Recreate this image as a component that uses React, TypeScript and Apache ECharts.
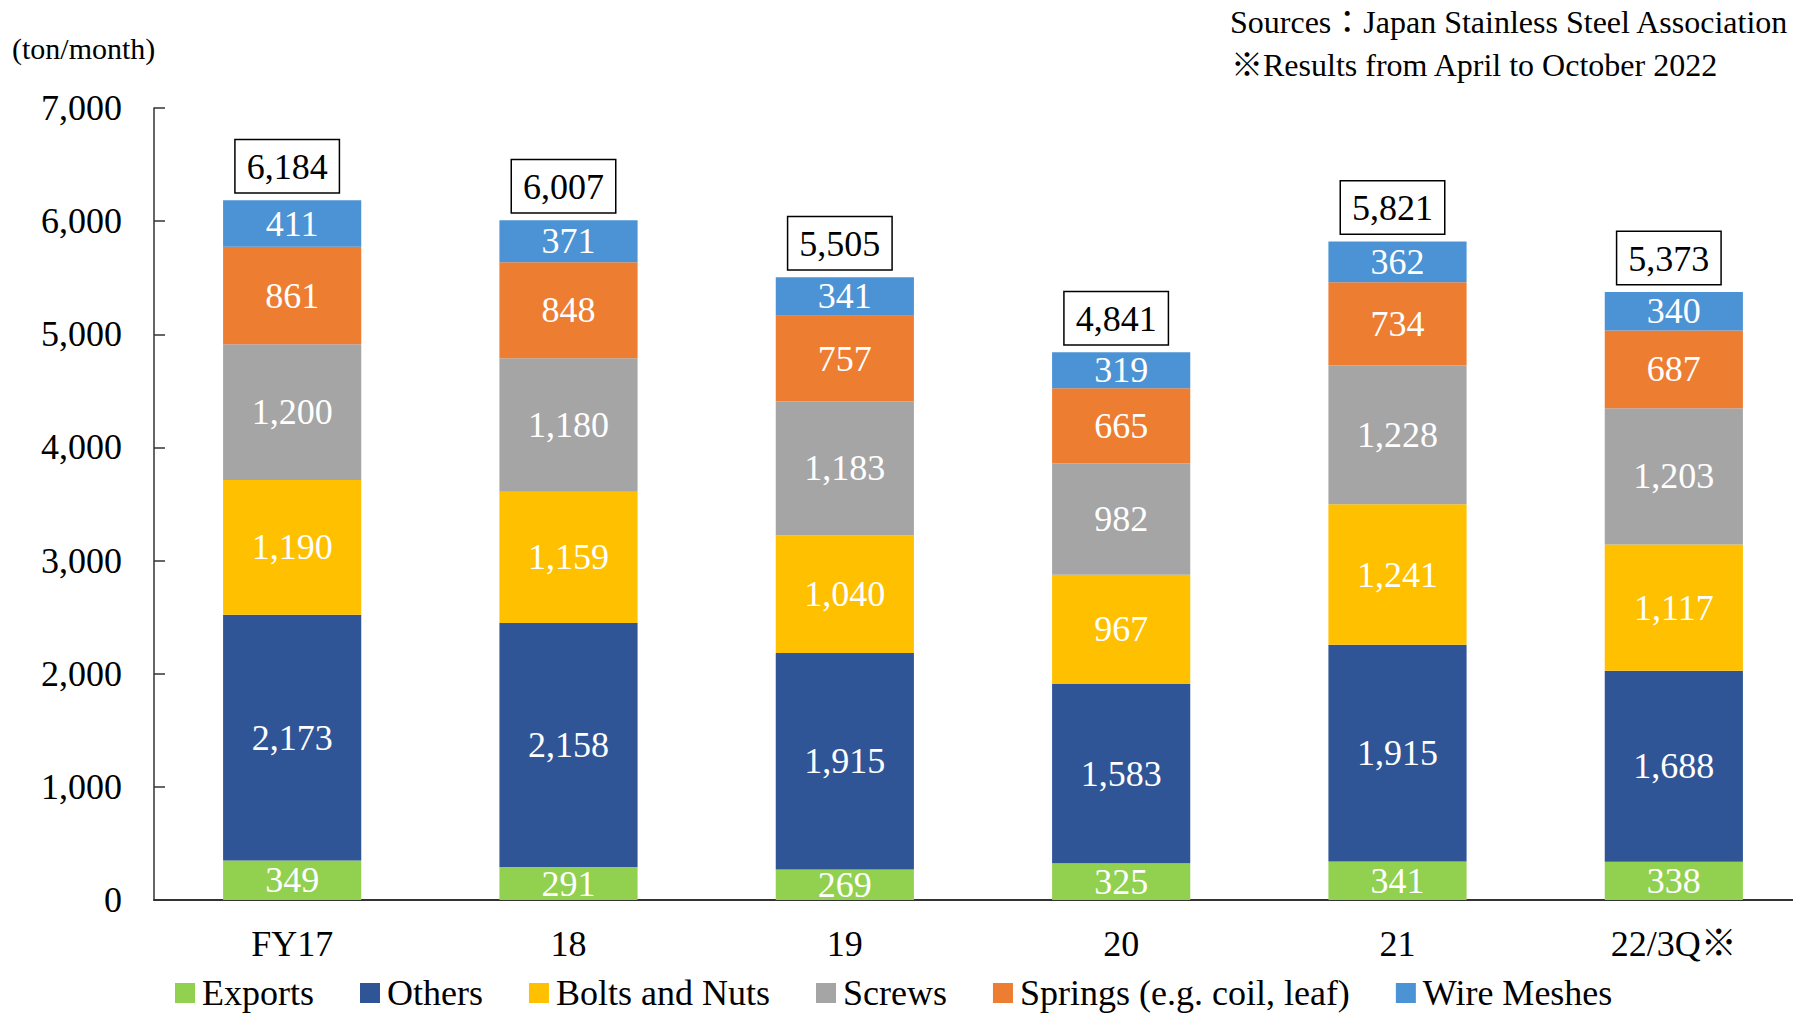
import React, { useEffect, useRef } from "react";
import * as echarts from "echarts";

const categories = ["FY17", "18", "19", "20", "21", "22/3Q※"];
const exportsVals = [349, 291, 269, 325, 341, 338];
const othersVals = [2173, 2158, 1915, 1583, 1915, 1688];
const boltsVals = [1190, 1159, 1040, 967, 1241, 1117];
const screwsVals = [1200, 1180, 1183, 982, 1228, 1203];
const springsVals = [861, 848, 757, 665, 734, 687];
const wireVals = [411, 371, 341, 319, 362, 340];
const totals = [6184, 6007, 5505, 4841, 5821, 5373];
const yTicks = [0, 1000, 2000, 3000, 4000, 5000, 6000, 7000];

const FONT = "'Liberation Serif', 'Times New Roman', 'Noto Sans CJK JP', serif";

const seriesDefs = [
  { name: "Exports", data: exportsVals, color: "#92D050" },
  { name: "Others", data: othersVals, color: "#2F5597" },
  { name: "Bolts and Nuts", data: boltsVals, color: "#FFC000" },
  { name: "Screws", data: screwsVals, color: "#A5A5A5" },
  { name: "Springs (e.g. coil, leaf)", data: springsVals, color: "#ED7D31" },
  { name: "Wire Meshes", data: wireVals, color: "#4B93D5" },
];

const fmt = (v: number) => v.toLocaleString("en-US");

export default function App() {
  const ref = useRef<HTMLDivElement>(null);
  useEffect(() => {
    document.body.style.margin = "0";
    const chart = echarts.init(ref.current!, null, { renderer: "svg" });
    const series: any[] = seriesDefs.map((s) => ({
      name: s.name,
      type: "bar",
      stack: "all",
      barWidth: "50%",
      data: s.data,
      itemStyle: { color: s.color },
      label: {
        show: true,
        position: "inside",
        color: "#fff",
        fontFamily: FONT,
        fontSize: 36,
        formatter: (p: any) => fmt(p.value),
      },
    }));
    series.push({
      name: "Total",
      type: "bar",
      barWidth: "50%",
      barGap: "-100%",
      data: totals,
      itemStyle: { color: "rgba(0,0,0,0)" },
      silent: true,
      z: 1,
      label: {
        show: true,
        position: "top",
        distance: 8,
        offset: [-5, 0],
        color: "#000",
        fontFamily: FONT,
        fontSize: 36,
        lineHeight: 36,
        backgroundColor: "#fff",
        borderColor: "#000",
        borderWidth: 1.5,
        padding: [9, 11, 7, 11],
        formatter: (p: any) => fmt(p.value),
      },
    });
    chart.setOption({
      animation: false,
      backgroundColor: "#fff",
      textStyle: { fontFamily: FONT },
      grid: { left: 154, top: 108, width: 1658, height: 792, containLabel: false },
      legend: {
        data: seriesDefs.map((s) => s.name),
        left: 175,
        top: 975,
        padding: 0,
        itemWidth: 20,
        itemHeight: 20,
        itemGap: 46,
        icon: "rect",
        textStyle: { fontFamily: FONT, fontSize: 36, lineHeight: 36, color: "#000", padding: [0, 0, 0, 2] },
      },
      xAxis: {
        type: "category",
        data: categories,
        axisLine: { show: true, lineStyle: { color: "#333", width: 2 } },
        axisTick: { show: false },
        axisLabel: { color: "#000", fontFamily: FONT, fontSize: 36, margin: 26 },
      },
      yAxis: {
        type: "value",
        min: yTicks[0],
        max: yTicks[yTicks.length - 1],
        interval: 1000,
        axisLine: { show: true, lineStyle: { color: "#333", width: 1.5 } },
        axisTick: { show: true, inside: true, length: 11, lineStyle: { color: "#333", width: 1.5 } },
        splitLine: { show: false },
        axisLabel: { color: "#000", fontFamily: FONT, fontSize: 36, margin: 32, formatter: (v: number) => fmt(v) },
      },
      graphic: [
        {
          type: "text",
          left: 12,
          top: 33,
          style: { text: "(ton/month)", font: `30px ${FONT}`, fill: "#000" },
        },
        {
          type: "text",
          left: 1230,
          top: 6,
          style: { text: "Sources：Japan Stainless Steel Association", font: `32px ${FONT}`, fill: "#000" },
        },
        {
          type: "text",
          left: 1231,
          top: 49,
          style: { text: "※Results from April to October 2022", font: `32px ${FONT}`, fill: "#000" },
        },
      ],
      series,
    });
    return () => chart.dispose();
  }, []);
  return (
    <div style={{ width: 1793, height: 1015, overflow: "hidden", position: "relative" }}>
      <div ref={ref} style={{ width: 1840, height: 1015 }} />
    </div>
  );
}
